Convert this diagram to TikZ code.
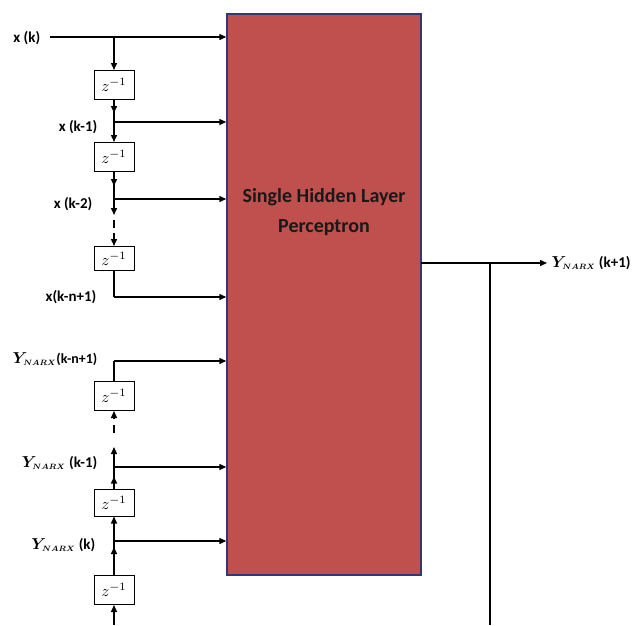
\documentclass[tikz,border=0pt]{standalone}
\usepackage{fontspec}
\usepackage{bm}
\setmainfont{Carlito}
\usetikzlibrary{arrows.meta}
\definecolor{mlpred}{RGB}{192,80,77}
\definecolor{mlpedge}{RGB}{52,56,112}
\tikzset{
  every picture/.style={line width=1.4pt},
  delay/.style={draw, line width=1pt, fill=white, minimum width=40pt, minimum height=29pt, inner sep=0pt},
  lbl/.style={font=\bfseries\fontsize{15}{15}\selectfont, inner sep=0pt},
  arr/.style={-{Triangle[length=7pt,width=6pt]}},
}
\newcommand{\zinv}{\scalebox{1.6}{$z^{-1}$}}
\newcommand{\ynarx}{\scalebox{1.1}{$\bm{Y}_{\scriptscriptstyle\bm{NARX}}$}}
\begin{document}
\begin{tikzpicture}[x=1pt,y=-1pt]
\useasboundingbox (0,0) rectangle (632,625);
% main block
\node[draw=mlpedge, fill=mlpred, line width=1.5pt, minimum width=194pt, minimum height=561pt, inner sep=0pt] (mlp) at (324,294.5) {};
\node[font=\bfseries\fontsize{20}{30}\selectfont, align=center, text=black!90] (mlptext) at (324,212) {Single Hidden Layer\\Perceptron};

% input taps
\coordinate (xs) at (50,37);
\coordinate (j1) at (114,37);
\node[lbl, anchor=east] (lxk) at (41,38) {x (k)};
\node[delay] (d1) at (114,85) {\zinv};
\coordinate (j2) at (114,122);
\node[lbl, anchor=east] (lxk1) at (98,127) {x (k-1)};
\node[delay] (d2) at (114,157) {\zinv};
\coordinate (j3) at (114,199);
\node[lbl, anchor=east] (lxk2) at (93,204) {x (k-2)};
\coordinate (a3) at (114,215);
\coordinate (b3) at (114,220);
\coordinate (c3) at (114,228);
\coordinate (e3) at (114,233);
\node[delay, minimum height=24pt] (d3) at (114,258.5) {\zinv};
\coordinate (j4) at (114,297);
\node[lbl, anchor=east] (lxkn) at (97,297) {x(k-n+1)};

\draw[arr] (xs) -- (xs -| mlp.west);
\draw[arr] (j1) -- (d1.north);
\draw[arr] (d1.south) -- ++(0,13);
\draw (d1.south) -- (j2);
\draw[arr] (j2) -- (j2 -| mlp.west);
\draw[arr] (j2) -- (d2.north);
\draw[arr] (d2.south) -- ++(0,14);
\draw (d2.south) -- (j3);
\draw[arr] (j3) -- (j3 -| mlp.west);
\draw[arr] (j3) -- (a3);
\draw (b3) -- (c3);
\draw[arr] (e3) -- (d3.north);
\draw (d3.south) -- (j4);
\draw[arr] (j4) -- (j4 -| mlp.west);

% output feedback taps
\coordinate (j5) at (114,361);
\node[lbl, anchor=east, font=\bfseries\fontsize{14}{14}\selectfont] (ly1) at (98,359) {\ynarx(k-n+1)};
\node[delay] (d4) at (114,396) {\zinv};
\coordinate (a4) at (114,418);
\coordinate (b4) at (114,425);
\coordinate (c4) at (114,433);
\coordinate (e4) at (114,447);
\coordinate (j6) at (114,467);
\node[lbl, anchor=east] (ly2) at (98,463) {\ynarx\ (k-1)};
\node[delay, minimum height=27pt] (d5) at (114,502.5) {\zinv};
\coordinate (j7) at (114,541);
\node[lbl, anchor=east] (ly3) at (96,545) {\ynarx\ (k)};
\node[delay] (d6) at (114,590) {\zinv};
\coordinate (bot) at (114,625);

\draw[arr] (j5) -- (j5 -| mlp.west);
\draw (d4.north) -- (j5);
\draw[arr] (a4) -- (d4.south);
\draw (b4) -- (c4);
\draw[arr] (j6) -- (e4);
\draw[arr] (j6) -- (j6 -| mlp.west);
\draw[arr] (d5.north) -- ++(0,-12);
\draw (d5.north) -- (j6);
\draw[arr] (j7) -- (d5.south);
\draw[arr] (j7) -- (j7 -| mlp.west);
\draw[arr] (d6.north) -- ++(0,-28);
\draw (d6.north) -- (j7);
\draw[arr] (bot) -- (d6.south);

% output
\coordinate (o1) at (421,263);
\coordinate (o2) at (547,263);
\coordinate (fb) at (490,263);
\coordinate (fbb) at (490,625);
\draw[arr] (o1) -- (o2);
\node[lbl, anchor=west] (ly) at (551,263) {\ynarx\ (k+1)};
\draw (fb) -- (fbb);
\end{tikzpicture}
\end{document}
